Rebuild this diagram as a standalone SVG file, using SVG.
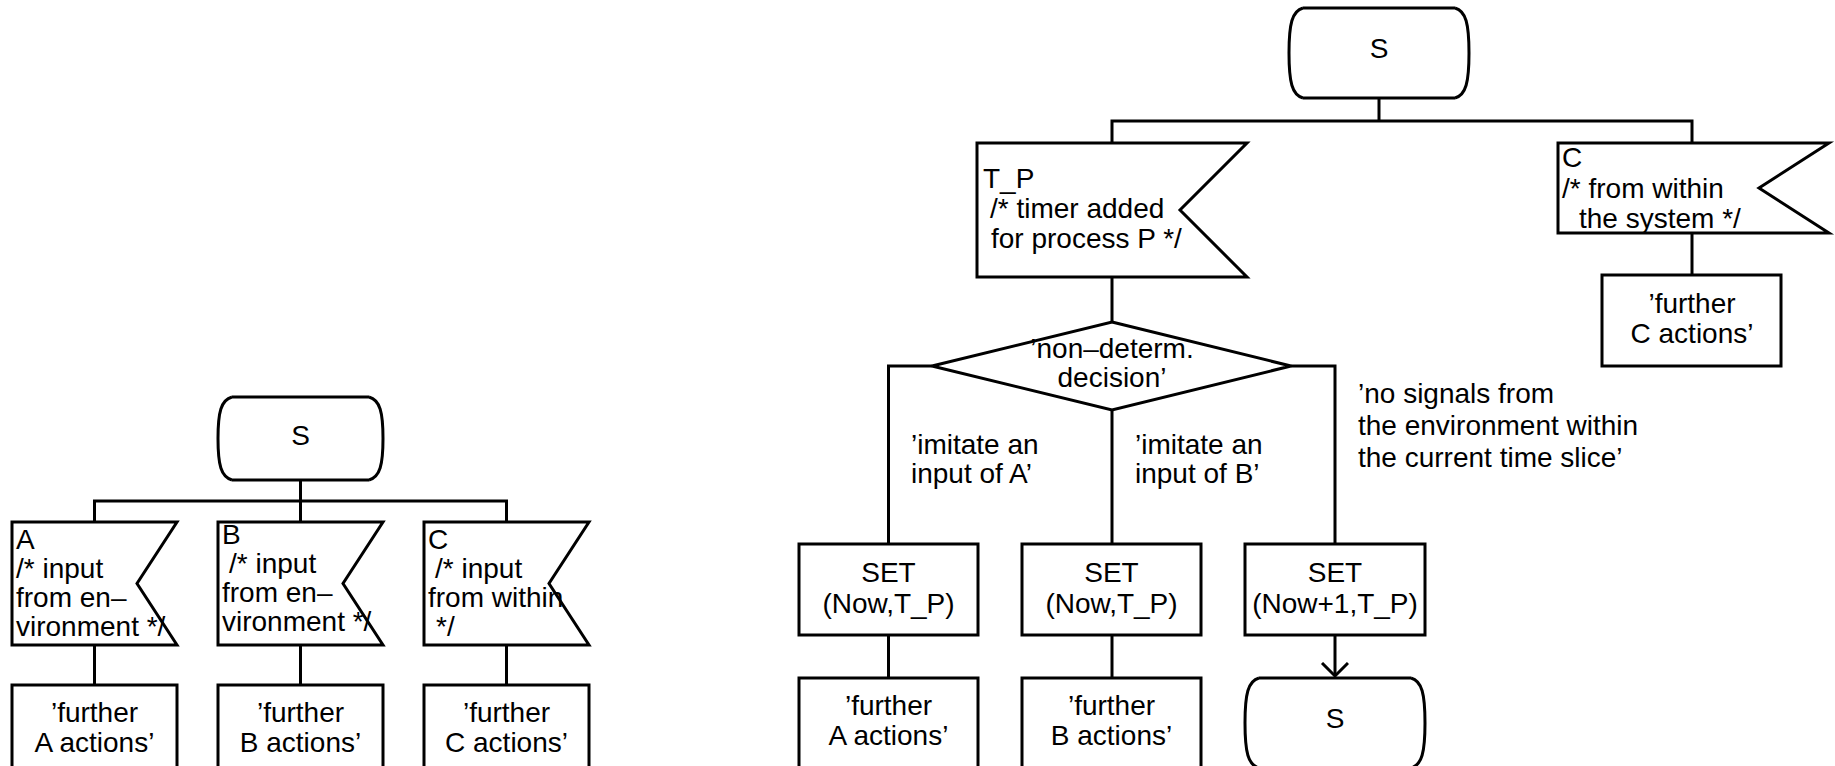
<svg xmlns="http://www.w3.org/2000/svg" width="1835" height="766" viewBox="0 0 1835 766">
<style>
  .s { fill: none; stroke: #000; stroke-width: 3; stroke-linejoin: miter; }
  .bg { fill: #fff; stroke: #000; stroke-width: 3; }
  text { font-family: "Liberation Sans", Arial, Helvetica, sans-serif; font-size: 28px; fill: #000; }
  .c { text-anchor: middle; }
</style>
<defs>
  <marker id="open" markerWidth="30" markerHeight="30" refX="14" refY="14" orient="auto" markerUnits="userSpaceOnUse">
    <path d="M1,1 L14,14 L1,27" fill="none" stroke="#000" stroke-width="3"/>
  </marker>
</defs>
<rect width="1835" height="766" fill="#fff"/>

<!-- connectors -->
<g id="connectors" class="s">
  <!-- left diagram -->
  <path d="M300.5,480 V501"/>
  <path d="M94.5,522 V501 H506.5 V522"/>
  <path d="M300.5,501 V522"/>
  <path d="M94.5,645 V685"/>
  <path d="M300.5,645 V685"/>
  <path d="M506.5,645 V685"/>
  <!-- right diagram -->
  <path d="M1379,98 V121"/>
  <path d="M1112,143 V121 H1692 V143"/>
  <path d="M1692,233 V275"/>
  <path d="M1112,277 V322"/>
  <path d="M932,366 H888.5 V544"/>
  <path d="M1112,410 V544"/>
  <path d="M1291,366 H1335 V544"/>
  <path d="M888.5,635 V678"/>
  <path d="M1112,635 V678"/>
  <path d="M1335,635 V676" marker-end="url(#open)"/>
</g>

<!-- left diagram -->
<g id="L_state_S">
  <path class="s" d="M232,397 H369 M232,480 H369 M232,397 C221,400 218,412 218,438.5 C218,465 221,477 232,480 M369,397 C380,400 383,412 383,438.5 C383,465 380,477 369,480"/>
  <text class="c" x="300.5" y="445">S</text>
</g>
<g id="L_input_A">
  <polygon class="bg" points="12,522 177,522 137,583.5 177,645 12,645"/>
  <text x="16" y="549">A</text>
  <text x="16" y="578">/* input</text>
  <text x="16" y="607">from en–</text>
  <text x="16" y="636">vironment */</text>
</g>
<g id="L_input_B">
  <polygon class="bg" points="218,522 383,522 343,583.5 383,645 218,645"/>
  <text x="222" y="544">B</text>
  <text x="229" y="573">/* input</text>
  <text x="222" y="602">from en–</text>
  <text x="222" y="631">vironment */</text>
</g>
<g id="L_input_C">
  <polygon class="bg" points="424,522 589,522 549,583.5 589,645 424,645"/>
  <text x="428" y="549">C</text>
  <text x="435" y="578">/* input</text>
  <text x="428" y="607">from within</text>
  <text x="436" y="636">*/</text>
</g>
<g id="L_task_A">
  <rect class="bg" x="12" y="685" width="165" height="83"/>
  <text class="c" x="94.5" y="722">’further</text>
  <text class="c" x="94.5" y="752">A actions’</text>
</g>
<g id="L_task_B">
  <rect class="bg" x="218" y="685" width="165" height="83"/>
  <text class="c" x="300.5" y="722">’further</text>
  <text class="c" x="300.5" y="752">B actions’</text>
</g>
<g id="L_task_C">
  <rect class="bg" x="424" y="685" width="165" height="83"/>
  <text class="c" x="506.5" y="722">’further</text>
  <text class="c" x="506.5" y="752">C actions’</text>
</g>

<!-- right diagram -->
<g id="R_state_S_top">
  <path class="s" d="M1303,8 H1455 M1303,98 H1455 M1303,8 C1292,11 1289,24 1289,53 C1289,82 1292,95 1303,98 M1455,8 C1466,11 1469,24 1469,53 C1469,82 1466,95 1455,98"/>
  <text class="c" x="1379" y="58">S</text>
</g>
<g id="R_input_TP">
  <polygon class="bg" points="977,143 1247,143 1180,210 1247,277 977,277"/>
  <text x="983" y="188">T_P</text>
  <text x="990" y="218">/* timer added</text>
  <text x="991" y="248">for process P */</text>
</g>
<g id="R_input_C">
  <polygon class="bg" points="1558,143 1829,143 1759,188 1829,233 1558,233"/>
  <text x="1562" y="167">C</text>
  <text x="1562" y="198">/* from within</text>
  <text x="1579" y="228">the system */</text>
</g>
<g id="R_task_C">
  <rect class="bg" x="1602" y="275" width="179" height="91"/>
  <text class="c" x="1692" y="313">’further</text>
  <text class="c" x="1692" y="343">C actions’</text>
</g>
<g id="R_decision">
  <polygon class="bg" points="1112,322 1291,366 1112,410 932,366"/>
  <text class="c" x="1112" y="358">’non–determ.</text>
  <text class="c" x="1112" y="387">decision’</text>
</g>
<g id="R_labels">
  <text x="911" y="454">’imitate an</text>
  <text x="911" y="483">input of A’</text>
  <text x="1135" y="454">’imitate an</text>
  <text x="1135" y="483">input of B’</text>
  <text x="1358" y="403">’no signals from</text>
  <text x="1358" y="435">the environment within</text>
  <text x="1358" y="467">the current time slice’</text>
</g>
<g id="R_set_A">
  <rect class="bg" x="799" y="544" width="179" height="91"/>
  <text class="c" x="888.5" y="582">SET</text>
  <text class="c" x="888.5" y="613">(Now,T_P)</text>
</g>
<g id="R_set_B">
  <rect class="bg" x="1022" y="544" width="179" height="91"/>
  <text class="c" x="1111.5" y="582">SET</text>
  <text class="c" x="1111.5" y="613">(Now,T_P)</text>
</g>
<g id="R_set_C">
  <rect class="bg" x="1245" y="544" width="180" height="91"/>
  <text class="c" x="1335" y="582">SET</text>
  <text class="c" x="1335" y="613">(Now+1,T_P)</text>
</g>
<g id="R_task_A">
  <rect class="bg" x="799" y="678" width="179" height="90"/>
  <text class="c" x="888.5" y="715">’further</text>
  <text class="c" x="888.5" y="745">A actions’</text>
</g>
<g id="R_task_B">
  <rect class="bg" x="1022" y="678" width="179" height="90"/>
  <text class="c" x="1111.5" y="715">’further</text>
  <text class="c" x="1111.5" y="745">B actions’</text>
</g>
<g id="R_state_S_bottom">
  <path class="s" d="M1259,678 H1411 M1259,768 H1411 M1259,678 C1248,681 1245,694 1245,723 C1245,752 1248,765 1259,768 M1411,678 C1422,681 1425,694 1425,723 C1425,752 1422,765 1411,768"/>
  <text class="c" x="1335" y="728">S</text>
</g>
</svg>
